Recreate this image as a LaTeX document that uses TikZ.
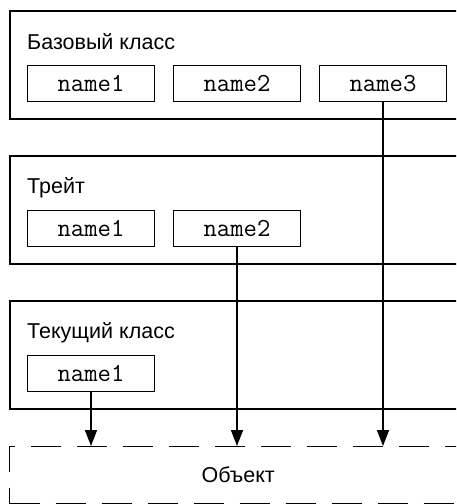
\documentclass[tikz,border=0pt]{standalone}
\usepackage{fontspec}
\setmainfont{Liberation Sans}
\usetikzlibrary{arrows.meta,positioning}

\begin{document}
\begin{tikzpicture}[
  x=1pt, y=-1pt,
  node distance=18pt,
  layer/.style={draw, line width=1.6pt, minimum width=457pt, minimum height=108pt,
                anchor=north west, inner sep=0pt},
  title/.style={font=\fontsize{21.5}{24}\selectfont, inner sep=0pt},
  member/.style={draw, line width=1pt, minimum width=127pt, minimum height=36pt,
                 inner sep=0pt, font=\ttfamily\fontsize{26}{28}\selectfont},
  objbox/.style={layer, anchor=north west, line width=1.3pt, dash pattern=on 30pt off 16pt,
                 minimum height=57pt, font=\fontsize{21.5}{24}\selectfont},
  arr/.style={-{Triangle[length=16pt, width=12pt]}, line width=1.5pt}
]
\useasboundingbox (0,0) rectangle (456,504);
\clip (0,0) rectangle (456,504);

% layers
\node[layer] (base) at (9,10) {};
\node[layer] (trait) at (9,155) {};
\node[layer] (cur) at (9,300) {};
\node[objbox] (obj) at (9,446) {Объект};

% titles
\node[title, below right=39pt and 18pt of base.north west, anchor=base west] (basetitle) {Базовый класс};
\node[title, below right=38pt and 18pt of trait.north west, anchor=base west] (traittitle) {Трейт};
\node[title, below right=38pt and 18pt of cur.north west, anchor=base west] (curtitle) {Текущий класс};

% members
\node[member, below right=55pt and 18pt of base.north west] (base1) {name1};
\node[member, right=of base1] (base2) {name2};
\node[member, right=of base2] (base3) {name3};
\node[member, below right=55pt and 18pt of trait.north west] (trait1) {name1};
\node[member, right=of trait1] (trait2) {name2};
\node[member, below right=55pt and 18pt of cur.north west] (cur1) {name1};

\draw[arr] (cur1.south) -- (cur1.south |- obj.north);
\draw[arr] (trait2.south) -- (trait2.south |- obj.north);
\draw[arr] (base3.south) -- (base3.south |- obj.north);
\end{tikzpicture}
\end{document}
